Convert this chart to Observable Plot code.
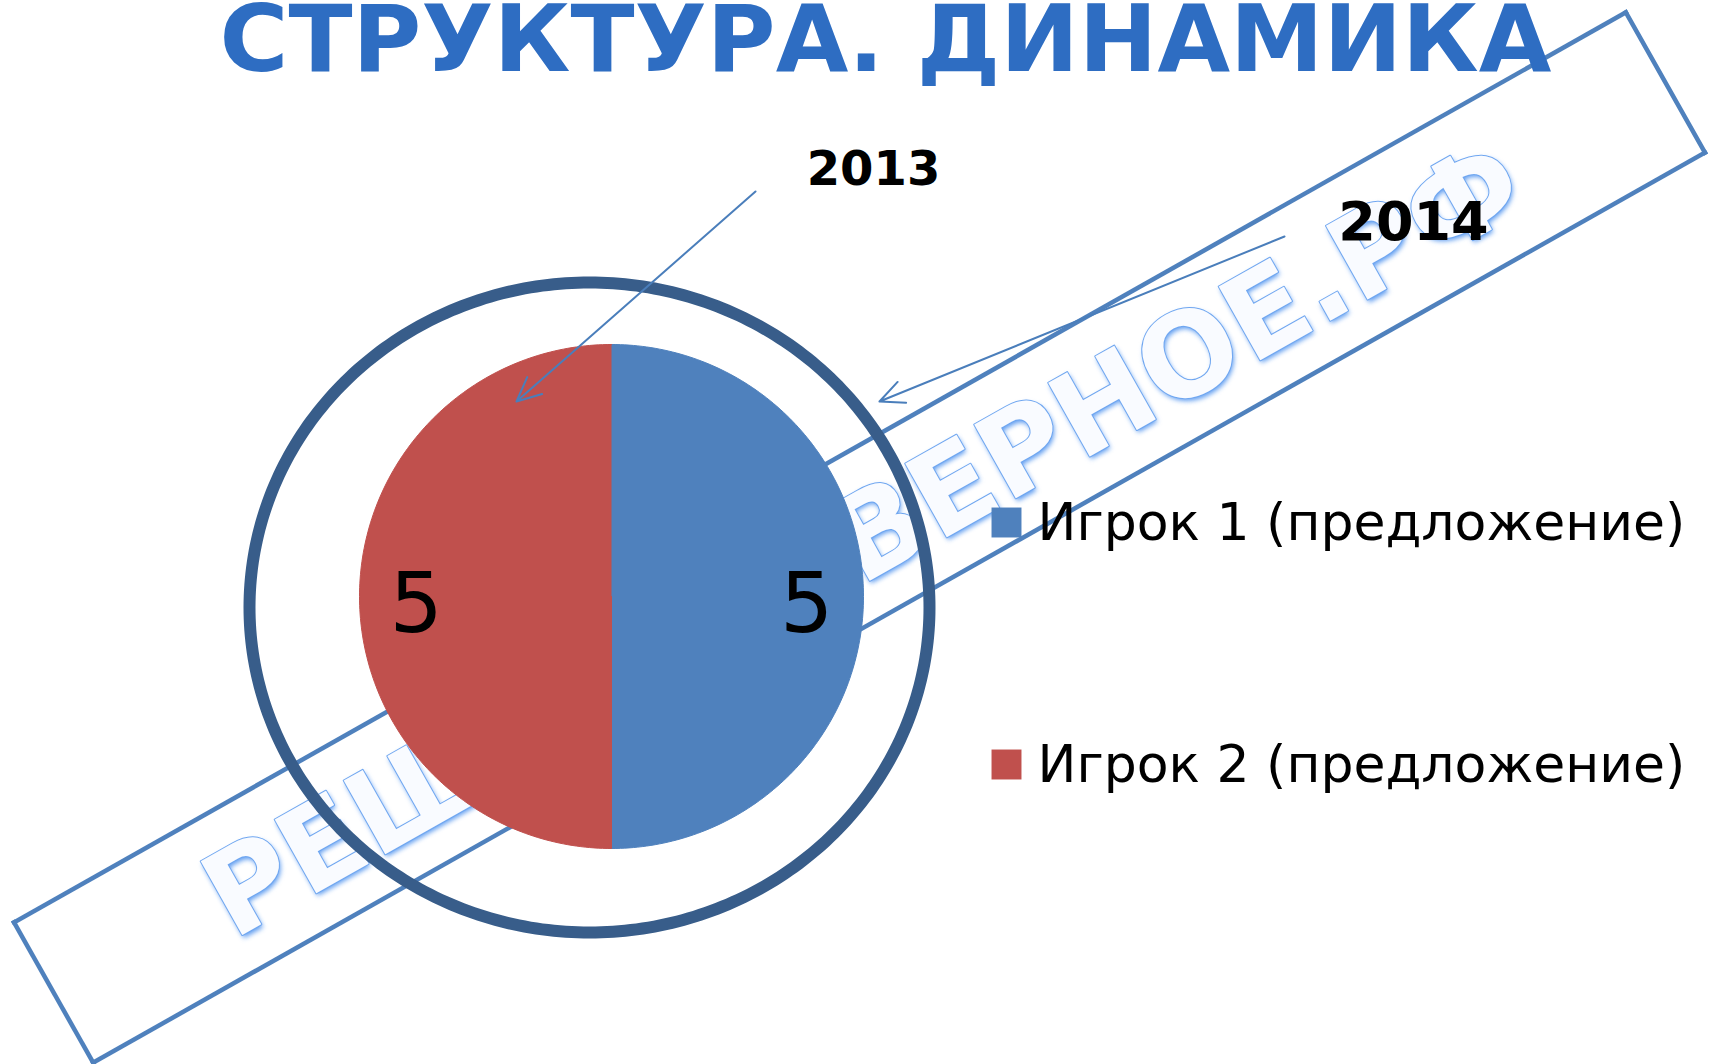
<!DOCTYPE html>
<html>
<head>
<meta charset="utf-8">
<script src="https://cdn.jsdelivr.net/npm/d3@7"></script>
<script src="https://cdn.jsdelivr.net/npm/@observablehq/plot@0.6"></script>
<style>
  html, body { margin: 0; padding: 0; background: #ffffff; overflow: hidden; }
  #chart { width: 1715px; height: 1064px; }
</style>
</head>
<body>
<div id="chart"></div>
<script>
// ================= DATA =================
const title = "СТРУКТУРА. ДИНАМИКА";
const categories = ["Игрок 1 (предложение)", "Игрок 2 (предложение)"];
const values2013 = [5, 5];
const seriesColors = ["#4F81BD", "#C0504D"];
const years = ["2013", "2014"];
const watermarkText = "РЕШЕНИЕ ВЕРНОЕ.РФ";

// ================= LAYOUT =================
const W = 1715, H = 1064;
const pieL = {cx: 611, cy: 596, r: 252, labelR: 0.775, labelDy: 9, fontSize: 84};
const ringL = {cx: 589, cy: 607, rx: 340, ry: 325, width: 12, color: "#385D8A"};
const legendL = {x: 1006, textX: 1037, y0: 522, gap: 242, r: 16.9, fontSize: 52};
const yearL = [
  {x: 873, y: 184, size: 48, x1: 755, y1: 191, x2: 516, y2: 401},
  {x: 1413, y: 239, size: 54, x1: 1284, y1: 236, x2: 879, y2: 401}
];
const titleL = {x: 885, y: 70, size: 92, width: 1332, color: "#2E6DC2"};
const wmL = {cx: 859, cy: 537, len: 1851, thick: 161, angle: -29.45,
             textX: 1532, textY: 206, fontSize: 116, wordSpacing: 20, color: "#4F81BD"};

// ================= GEOMETRY FROM DATA =================
const arcs = d3.pie().sort(null)(values2013);
const slicePoints = arcs.flatMap((a, i) => {
  const pts = [{x: pieL.cx, y: pieL.cy, category: categories[i]}];
  const n = 180;
  for (let j = 0; j <= n; j++) {
    const t = a.startAngle + (a.endAngle - a.startAngle) * j / n;
    pts.push({x: pieL.cx + pieL.r * Math.sin(t), y: pieL.cy - pieL.r * Math.cos(t), category: categories[i]});
  }
  return pts;
});
const sliceLabels = arcs.map((a, i) => {
  const m = (a.startAngle + a.endAngle) / 2;
  return {
    x: pieL.cx + pieL.r * pieL.labelR * Math.sin(m),
    y: pieL.cy - pieL.r * pieL.labelR * Math.cos(m) + pieL.labelDy,
    text: String(a.value)
  };
});

const ringPoints = d3.range(0, 361).map(d => {
  const t = d * Math.PI / 180;
  return {x: ringL.cx + ringL.rx * Math.cos(t), y: ringL.cy + ringL.ry * Math.sin(t)};
});

const ang = wmL.angle * Math.PI / 180;
const along = [Math.cos(ang), Math.sin(ang)];
const across = [-Math.sin(ang), Math.cos(ang)];
const corner = (a, b) => ({
  x: wmL.cx + a * wmL.len / 2 * along[0] + b * wmL.thick / 2 * across[0],
  y: wmL.cy + a * wmL.len / 2 * along[1] + b * wmL.thick / 2 * across[1]
});
const cornerList = [[-1, -1], [1, -1], [1, 1], [-1, 1]].map(([a, b]) => corner(a, b));
const wmSides = cornerList.map((p, i) => {
  const q = cornerList[(i + 1) % cornerList.length];
  return {x1: p.x, y1: p.y, x2: q.x, y2: q.y};
});
// shadow offset toward the bottom of the rotated letters
const shadowDx = across[0] * 3, shadowDy = across[1] * 3;

const legendData = categories.map((c, i) => ({category: c, y: legendL.y0 + i * legendL.gap}));
const yearData = years.map((y, i) => ({year: y, ...yearL[i]}));

const wmTextOpts = {
  x: wmL.textX, y: wmL.textY, text: d => d, rotate: wmL.angle,
  textAnchor: "end", lineAnchor: "bottom", fontSize: wmL.fontSize, fontWeight: "bold"
};

// ================= PLOT =================
const chart = Plot.plot({
  width: W,
  height: H,
  margin: 0,
  style: {fontFamily: "'DejaVu Sans', Verdana, sans-serif", background: "#ffffff", overflow: "hidden"},
  x: {type: "linear", domain: [0, W], range: [0, W], axis: null},
  y: {type: "linear", domain: [0, H], range: [0, H], axis: null},
  color: {type: "ordinal", domain: categories, range: seriesColors},
  marks: [
    // watermark frame and text (shadow layer first, then the light letters)
    Plot.link(wmSides, {x1: "x1", y1: "y1", x2: "x2", y2: "y2", stroke: wmL.color, strokeWidth: 4.5, strokeLinecap: "square"}),
    Plot.text([watermarkText], {...wmTextOpts, dx: shadowDx, dy: shadowDy, fill: "#4a90ee", fillOpacity: 0.9}),
    Plot.text([watermarkText], {...wmTextOpts, fill: "#f9fbff", stroke: "#6fa6f0", strokeWidth: 2}),
    // 2013 pie
    Plot.line(slicePoints, {x: "x", y: "y", z: "category", fill: "category", stroke: "category", strokeWidth: 1}),
    // 2014 ring
    Plot.line(ringPoints, {x: "x", y: "y", stroke: ringL.color, strokeWidth: ringL.width, fill: "none"}),
    // data labels
    Plot.text(sliceLabels, {x: "x", y: "y", text: "text", fontSize: pieL.fontSize, fill: "#000", lineAnchor: "middle"}),
    // legend
    Plot.dot(legendData, {x: legendL.x, y: "y", fill: "category", symbol: "square", r: legendL.r, stroke: "none"}),
    Plot.text(legendData, {x: legendL.textX, y: "y", dy: 17, text: "category", textAnchor: "start", lineAnchor: "bottom", fontSize: legendL.fontSize, fill: "#000"}),
    // year annotations
    Plot.arrow(yearData, {x1: "x1", y1: "y1", x2: "x2", y2: "y2", stroke: "#4A7EBB", strokeWidth: 2, headLength: 20, headAngle: 50}),
    Plot.text(yearData, {x: "x", y: "y", text: "year", fontSize: "size", fontWeight: "bold", fill: "#000", lineAnchor: "bottom"}),
    // title
    Plot.text([title], {x: titleL.x, y: titleL.y, text: d => d, fontSize: titleL.size, fontWeight: "bold", fill: titleL.color, lineAnchor: "bottom"})
  ]
});

const svg = d3.select(chart);
const textsWith = s => svg.selectAll("text").filter(function () { return this.textContent === s; });
// stretch the title to the reference width
textsWith(title).attr("textLength", titleL.width).attr("lengthAdjust", "spacingAndGlyphs");
// watermark spacing + soft shadow
const wmTexts = textsWith(watermarkText).style("word-spacing", wmL.wordSpacing + "px");
d3.select(wmTexts.nodes()[0]).style("filter", "blur(2.5px)");

document.getElementById("chart").appendChild(chart);
</script>
</body>
</html>
